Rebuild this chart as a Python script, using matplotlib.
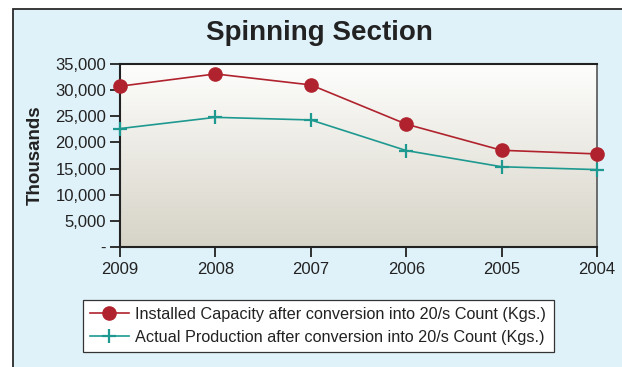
import numpy as np
import matplotlib
matplotlib.use("Agg")
import matplotlib.pyplot as plt
from matplotlib.patches import Rectangle
from matplotlib.ticker import FuncFormatter

plt.rcParams['font.family'] = ['Liberation Sans', 'DejaVu Sans']

years = ["2009", "2008", "2007", "2006", "2005", "2004"]
installed = [30750, 33100, 31000, 23500, 18500, 17800]
production = [22650, 24800, 24300, 18450, 15350, 14800]
y_ticks = [0, 5000, 10000, 15000, 20000, 25000, 30000, 35000]

W, H = 622, 367
fig = plt.figure(figsize=(W / 100, H / 100), dpi=100)
fig.patch.set_facecolor('white')

# outer panel with light blue fill
panel = Rectangle((12.5 / W, -0.2), 1.2, 1.2 - 9 / H, transform=fig.transFigure,
                  facecolor='#dff1f9', edgecolor='#2a2a2a', linewidth=1.3,
                  zorder=-5)
fig.patches.append(panel)

left, right = 120 / W, 597 / W
top, bottom = 1 - 64 / H, 1 - 247 / H
ax = fig.add_axes([left, bottom, right - left, top - bottom], zorder=1)

x = np.arange(len(years))
ax.set_xlim(0, len(years) - 1)
ax.set_ylim(0, 35000)

# vertical gradient for plot background
grad = np.linspace(0, 1, 256).reshape(-1, 1)
top_c = np.array([0.995, 0.995, 0.99])
bot_c = np.array([0.84, 0.83, 0.78])
img = top_c * (1 - grad[..., None]) + bot_c * grad[..., None]
img = img.reshape(256, 1, 3)
ax.imshow(img, extent=[0, len(years) - 1, 0, 35000], aspect='auto',
          origin='upper', zorder=0)

red = '#b0232e'
teal = '#1e9990'
ax.plot(x, installed, color=red, lw=1.2, marker='o', ms=9.5,
        markeredgecolor=red, clip_on=False, zorder=3,
        label='Installed Capacity after conversion into 20/s Count (Kgs.)')
ax.plot(x, production, color=teal, lw=1.2, marker='+', ms=10, mew=1.6,
        clip_on=False, zorder=3,
        label='Actual Production after conversion into 20/s Count (Kgs.)')

ax.set_xticks(x)
ax.set_xticklabels(years)
ax.set_yticks(y_ticks)
ax.yaxis.set_major_formatter(FuncFormatter(lambda v, p: '-' if v == 0 else f'{int(v):,}'))
ax.tick_params(axis='both', direction='out', length=7, width=1.3,
               labelsize=12, colors='#222222', pad=3)
ax.tick_params(axis='x', pad=4)

for side in ['left', 'bottom', 'top']:
    ax.spines[side].set_linewidth(1.5)
    ax.spines[side].set_color('#222222')
ax.spines['right'].set_linewidth(1.2)
ax.spines['right'].set_color('#555555')

fig.text(35 / W, 1 - 155 / H, 'Thousands', rotation=90, ha='center',
         va='center', fontsize=13.5, fontweight='bold', color='#222222')
fig.text(319 / W, 1 - 33 / H, 'Spinning Section', ha='center', va='center',
         fontsize=20, fontweight='bold', color='#222222')

leg = fig.legend(loc='center', bbox_to_anchor=(318 / W, 1 - 326 / H),
                 fontsize=11.7, frameon=True, fancybox=False,
                 edgecolor='#333333', framealpha=1, handlelength=2.4,
                 handletextpad=0.4, borderpad=0.45, labelspacing=0.5)
leg.get_frame().set_linewidth(0.9)
for t in leg.get_texts():
    t.set_color('#222222')

fig.savefig('out.png', dpi=100)
